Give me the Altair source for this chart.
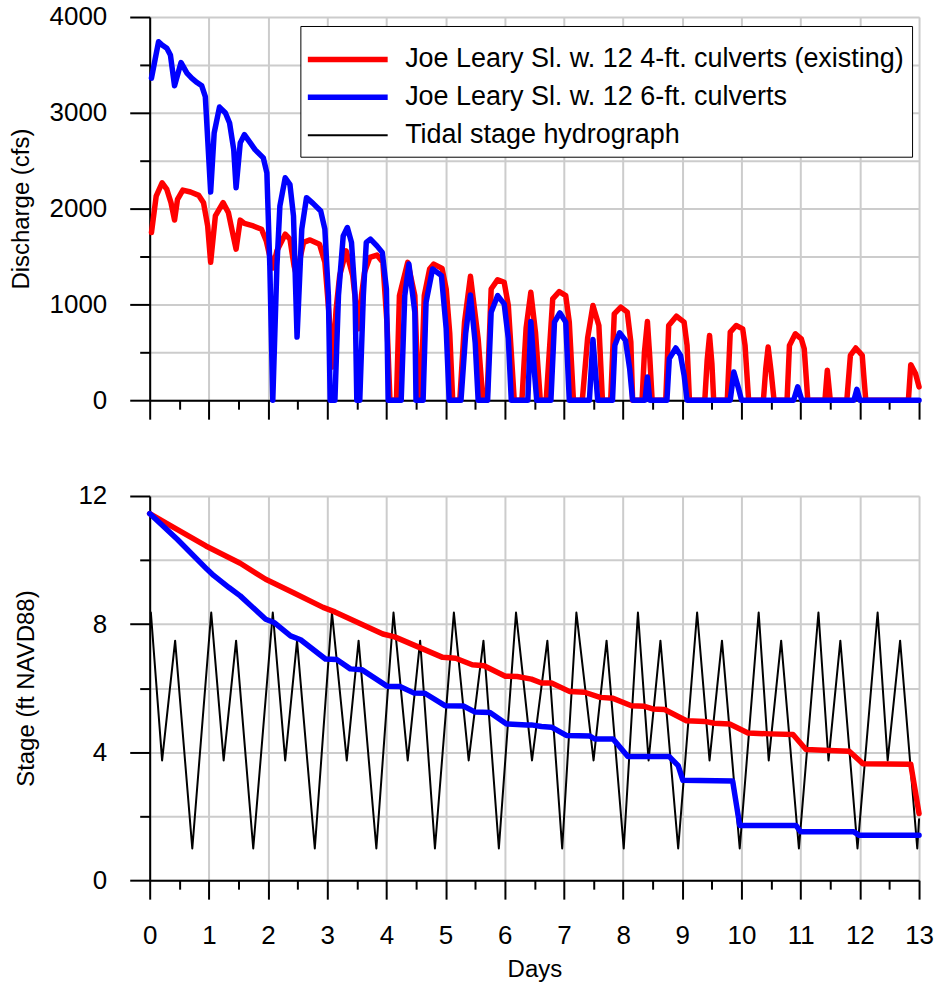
import altair as alt
import pandas as pd

S4 = "Joe Leary Sl. w. 12 4-ft. culverts (existing)"
S6 = "Joe Leary Sl. w. 12 6-ft. culverts"
ST = "Tidal stage hydrograph"

# Discharge (cfs) vs days, 4-ft culverts (existing)
q4 = [(0.03,1750),(0.11,2131),(0.21,2270),(0.29,2200),(0.36,2062),(0.42,1881),(0.47,2097),(0.56,2193),
      (0.69,2173),(0.83,2138),(0.91,2062),(0.98,1819),(1.03,1439),(1.11,1923),(1.24,2062),(1.33,1958),
      (1.40,1750),(1.46,1577),(1.53,1880),(1.60,1845),(1.75,1819),(1.89,1785),(1.97,1663),(2.03,1500),
      (2.08,1380),(2.15,1560),(2.29,1733),(2.37,1681),(2.44,1400),(2.49,1280),(2.53,1450),(2.60,1647),
      (2.71,1673),(2.87,1629),(2.96,1439),(3.03,900),(3.09,347),(3.15,950),(3.21,1300),(3.32,1559),
      (3.43,1300),(3.53,745),(3.58,1100),(3.63,1335),(3.72,1491),(3.84,1515),(3.94,1439),(4.01,800),
      (4.06,0),(4.17,0),(4.22,1092),(4.36,1439),(4.48,1092),(4.54,0),(4.58,0),(4.64,1092),(4.73,1369),
      (4.80,1421),(4.94,1376),(5.01,1161),(5.07,700),(5.12,0),(5.24,0),(5.32,815),(5.42,1293),(5.55,641),
      (5.63,0),(5.70,0),(5.77,1161),(5.88,1258),(5.99,1231),(6.06,988),(6.16,0),(6.29,0),(6.36,750),
      (6.44,1127),(6.52,700),(6.60,0),(6.70,0),(6.81,1057),(6.92,1133),(7.03,1092),(7.09,815),(7.16,0),
      (7.31,0),(7.40,650),(7.49,988),(7.59,780),(7.65,0),(7.79,0),(7.85,901),(7.96,971),(8.07,919),
      (8.13,607),(8.16,0),(8.32,0),(8.36,500),(8.41,821),(8.45,450),(8.49,0),(8.72,0),(8.77,780),
      (8.90,877),(9.03,815),(9.08,572),(9.12,0),(9.38,0),(9.42,420),(9.46,676),(9.50,380),(9.53,0),
      (9.76,0),(9.81,711),(9.91,780),(10.02,745),(10.06,572),(10.12,0),(10.37,0),(10.41,330),(10.45,555),
      (10.50,300),(10.55,0),(10.77,0),(10.81,572),(10.91,693),(11.01,641),(11.06,537),(11.12,0),
      (11.41,0),(11.45,312),(11.50,0),(11.78,0),(11.84,468),(11.93,545),(12.04,468),(12.07,226),
      (12.10,0),(12.82,0),(12.86,371),(12.94,278),(13.0,139)]

# Discharge (cfs) vs days, 6-ft culverts
q6 = [(0.03,3362),(0.15,3742),(0.21,3708),(0.29,3674),(0.35,3604),(0.42,3282),(0.53,3524),(0.63,3414),
      (0.71,3362),(0.80,3316),(0.88,3282),(0.94,3170),(1.03,2173),(1.09,2790),(1.18,3060),(1.28,2998),
      (1.35,2894),(1.42,2616),(1.46,2218),(1.53,2686),(1.60,2772),(1.70,2686),(1.78,2616),(1.92,2530),
      (1.98,2374),(2.03,1403),(2.08,0),(2.15,1403),(2.20,2027),(2.29,2322),(2.37,2250),(2.43,1923),
      (2.49,659),(2.57,1785),(2.65,2114),(2.76,2055),(2.89,1975),(2.96,1785),(3.02,1092),(3.05,0),
      (3.13,0),(3.19,1092),(3.27,1715),(3.34,1802),(3.41,1647),(3.47,1092),(3.50,0),(3.55,0),(3.61,1092),
      (3.66,1647),(3.73,1681),(3.84,1611),(3.93,1543),(4.00,1161),(4.03,0),(4.25,0),(4.31,1092),
      (4.38,1421),(4.48,919),(4.50,0),(4.62,0),(4.67,1023),(4.78,1369),(4.93,1300),(5.01,745),(5.06,0),
      (5.26,0),(5.34,700),(5.42,1099),(5.50,600),(5.55,0),(5.71,0),(5.77,919),(5.88,1092),(5.99,1005),
      (6.06,641),(6.11,0),(6.39,0),(6.44,821),(6.50,300),(6.54,0),(6.78,0),(6.84,815),(6.93,912),
      (7.03,815),(7.09,0),(7.43,0),(7.49,634),(7.57,0),(7.82,0),(7.86,572),(7.94,704),(8.04,624),
      (8.11,330),(8.16,0),(8.37,0),(8.41,243),(8.45,0),(8.74,0),(8.78,434),(8.89,545),(8.97,468),
      (9.03,260),(9.08,0),(9.81,0),(9.87,295),(9.95,122),(10.0,0),(10.88,0),(10.95,139),(11.02,0),
      (11.90,0),(11.95,114),(12.0,0),(13.0,0)]

# Tidal stage (ft NAVD88)
tide = [(0.02,8.36),(0.21,3.74),(0.43,7.48),(0.72,0.99),(1.04,8.36),(1.25,3.74),(1.46,7.48),(1.75,0.99),
        (2.08,8.36),(2.29,3.74),(2.49,7.48),(2.79,0.99),(3.08,8.36),(3.33,3.74),(3.53,7.48),(3.83,0.99),
        (4.12,8.36),(4.36,3.74),(4.57,7.48),(4.82,0.99),(5.14,8.36),(5.39,3.74),(5.64,7.48),(5.90,0.99),
        (6.19,8.36),(6.46,3.74),(6.72,7.48),(6.97,0.99),(7.21,8.36),(7.50,3.74),(7.72,7.48),(8.01,0.99),
        (8.25,8.36),(8.43,3.74),(8.63,7.48),(8.93,0.99),(9.25,8.36),(9.46,3.74),(9.67,7.48),(9.97,0.99),
        (10.29,8.36),(10.46,3.74),(10.67,7.48),(10.97,0.99),(11.30,8.36),(11.47,3.74),(11.67,7.48),
        (11.96,0.99),(12.30,8.36),(12.47,3.74),(12.68,7.48),(12.97,0.99),(13.0,1.9)]

# Slough stage (ft NAVD88), 4-ft culverts
st4 = [(0,11.45),(0.47,10.95),(0.95,10.44),(1.53,9.90),(1.96,9.40),(2.43,8.98),(2.93,8.52),(3.13,8.38),
       (3.94,7.69),(4.14,7.60),(4.95,6.96),(5.17,6.93),(5.45,6.73),(5.65,6.70),(6.01,6.37),(6.21,6.36),
       (6.45,6.28),(6.62,6.16),(6.79,6.16),(7.10,5.89),(7.35,5.87),(7.61,5.71),(7.83,5.68),(8.14,5.45),
       (8.36,5.43),(8.50,5.35),(8.70,5.33),(9.07,4.98),(9.38,4.96),(9.54,4.90),(9.80,4.88),(10.11,4.60),
       (10.47,4.57),(10.87,4.55),(11.09,4.08),(11.48,4.05),(11.82,4.03),(12.05,3.64),(12.86,3.62),
       (13.0,2.08)]

# Slough stage (ft NAVD88), 6-ft culverts
st6 = [(0,11.45),(0.47,10.64),(0.97,9.71),(1.08,9.52),(1.34,9.14),(1.53,8.88),(1.96,8.15),(2.10,8.05),
       (2.38,7.63),(2.55,7.51),(2.97,6.91),(3.16,6.89),(3.39,6.60),(3.59,6.57),(4.01,6.06),(4.23,6.05),
       (4.46,5.85),(4.65,5.84),(4.99,5.45),(5.30,5.44),(5.50,5.25),(5.75,5.24),(6.03,4.88),(6.37,4.85),
       (6.45,4.85),(6.62,4.80),(6.79,4.78),(7.04,4.52),(7.44,4.50),(7.52,4.41),(7.83,4.41),(8.08,3.86),
       (8.78,3.86),(8.93,3.58),(9.01,3.12),(9.85,3.10),(9.97,1.71),(10.92,1.71),(11.0,1.51),(11.9,1.51),
       (11.99,1.40),(13.0,1.40)]

x_ticks = [i * 0.5 for i in range(27)]
q_ticks = list(range(0, 4001, 500))
s_ticks = list(range(0, 13, 2))


def frame(pairs, name):
    return pd.DataFrame({"day": [p[0] for p in pairs], "v": [p[1] for p in pairs], "series": name})


FONT = "Liberation Sans"
names = [S4, S6, ST]
color_scale = alt.Scale(domain=names, range=["#ff0000", "#0000ff", "#000000"])
width_scale = alt.Scale(type="ordinal", domain=names, range=[5.5, 5.5, 2])

legend = alt.Legend(
    title=" ", titleFontSize=6, titlePadding=6,
    orient="none", legendX=151, legendY=9,
    symbolType="M-4,0H4", symbolSize=400, symbolOffset=26, labelOffset=44,
    labelFontSize=27, labelFont=FONT, labelColor="black", labelLimit=0,
    padding=8, rowPadding=10,
    fillColor="white", strokeColor="black", cornerRadius=0,
)

color_enc = alt.Color("series:N", scale=color_scale, legend=legend)
width_enc = alt.StrokeWidth("series:N", scale=width_scale, legend=legend)

x_cond_tick = {"condition": {"test": "datum.value % 1 === 0", "value": 19}, "value": 9}
x_cond_grid = {"condition": {"test": "datum.value % 1 === 0", "value": 1}, "value": 0}

axis_common = dict(
    domainColor="black", domainWidth=2, tickColor="black", tickWidth=2,
    gridColor="#cccccc", gridWidth=2, labelFontSize=26, labelColor="black",
    titleFontSize=24, titleFontWeight="normal", titleColor="black",
    labelFont=FONT, titleFont=FONT, labelOverlap=False, labelFlush=False,
)

x_top = alt.X("day:Q", scale=alt.Scale(domain=[0, 13], nice=False, zero=False),
              axis=alt.Axis(values=x_ticks, labels=False, title=None, grid=True,
                            gridOpacity=x_cond_grid, tickSize=x_cond_tick, **axis_common))
x_bot = alt.X("day:Q", scale=alt.Scale(domain=[0, 13], nice=False, zero=False),
              axis=alt.Axis(values=x_ticks, title="Days", grid=True, gridOpacity=x_cond_grid,
                            tickSize=x_cond_tick, labelPadding=23, titleY=78,
                            labelExpr="datum.value % 1 === 0 ? format(datum.value, 'd') : ''",
                            **axis_common))

y_top = alt.Y("v:Q", scale=alt.Scale(domain=[0, 4000], nice=False),
              axis=alt.Axis(values=q_ticks, title="Discharge (cfs)", grid=True,
                            tickSize={"condition": {"test": "datum.value % 1000 === 0", "value": 20}, "value": 10},
                            labelExpr="datum.value % 1000 === 0 ? format(datum.value, 'd') : ''",
                            labelPadding=23, titleX=-116, **axis_common))
y_bot = alt.Y("v:Q", scale=alt.Scale(domain=[0, 12], nice=False),
              axis=alt.Axis(values=s_ticks, title="Stage (ft NAVD88)", grid=True,
                            tickSize={"condition": {"test": "datum.value % 4 === 0", "value": 20}, "value": 10},
                            labelExpr="datum.value % 4 === 0 ? format(datum.value, 'd') : ''",
                            labelPadding=23, titleX=-111, **axis_common))


def layer_line(pairs, name, x, y):
    return alt.Chart(frame(pairs, name)).mark_line(strokeJoin="round", strokeCap="round").encode(
        x=x, y=y, color=color_enc, strokeWidth=width_enc
    )


top = alt.layer(
    layer_line(q4, S4, x_top, y_top),
    layer_line(q6, S6, x_top, y_top),
).properties(width=771, height=384)

bottom = alt.layer(
    layer_line(tide, ST, x_bot, y_bot),
    layer_line(st4, S4, x_bot, y_bot),
    layer_line(st6, S6, x_bot, y_bot),
).properties(width=771, height=385)

chart = alt.vconcat(top, bottom, spacing=96, bounds="flush").properties(
    padding={"left": 9, "top": 2, "right": 8, "bottom": 5}
).configure_view(stroke=None).configure(font=FONT)

chart.save("out.html", embed_options={"renderer": "svg", "actions": False})
